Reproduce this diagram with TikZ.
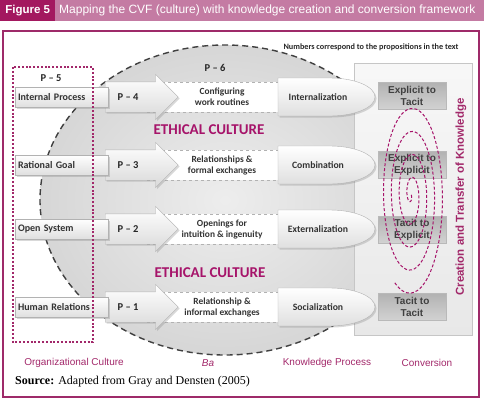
\documentclass[tikz,border=0pt]{standalone}
\usepackage{fontspec}
\setmainfont{Liberation Serif}
\setsansfont{Liberation Sans}
\newfontfamily\cfont{Carlito}
\usetikzlibrary{positioning,shapes.arrows,shadows}

\definecolor{figmag}{HTML}{A3185F}
\definecolor{barmag}{HTML}{C47BA3}
\definecolor{framemag}{HTML}{9E2A69}
\definecolor{labmag}{HTML}{A2286A}
\definecolor{ethmag}{HTML}{A6146A}

\tikzset{
  softshadow/.style={drop shadow={opacity=.3, shadow xshift=1.5pt, shadow yshift=-1.5pt}},
  cultbox/.style={draw=gray!60, top color=white, bottom color=gray!25, minimum width=93pt, minimum height=20pt, text width=87pt, inner sep=0pt, align=left, font=\cfont\bfseries\fontsize{10}{11}\selectfont, text=black!80, softshadow},
  blockarrow/.style={single arrow, draw=gray!60, top color=white, bottom color=gray!30, minimum height=73pt, text height=0pt, text depth=0pt, inner xsep=0pt, inner ysep=15pt, single arrow head extend=7.5pt, single arrow tip angle=90, softshadow},
  barect/.style={draw=gray!60, dashed, fill=white, minimum width=150pt, minimum height=30pt, align=center, font=\cfont\bfseries\fontsize{9.4}{11}\selectfont, text=black!80},
  kpshape/.style={draw=gray!60, top color=white, bottom color=gray!25, softshadow},
  kpbullet/.pic={\path[kpshape] (0,-19) -- (52,-19) arc[start angle=-90, end angle=90, x radius=45, y radius=19] -- (0,19) -- cycle;},
  kptext/.style={font=\cfont\bfseries\fontsize{9.7}{11}\selectfont, text=black!80},
  ptext/.style={font=\cfont\bfseries\fontsize{10.5}{12}\selectfont, text=black!85},
  convpanel/.style={draw=gray!45, top color=gray!6, bottom color=gray!18, minimum width=118pt, minimum height=272pt},
  convbox/.style={draw=gray!55, top color=gray!60, bottom color=gray!35, minimum width=68pt, minimum height=27pt, inner sep=0pt, align=center, font=\sffamily\bfseries\fontsize{10}{11.5}\selectfont, text=black!75},
  ethic/.style={font=\cfont\bfseries\fontsize{15}{17}\selectfont, text=ethmag},
  collabel/.style={font=\sffamily\fontsize{10}{12}\selectfont, text=labmag},
}

\begin{document}
\begin{tikzpicture}[x=1pt, y=-1pt]
    \useasboundingbox (0,0) rectangle (484,400);
    % title bar
    \fill[barmag] (0,0) rectangle (484,21);
    \node[fill=figmag, text=white, font=\sffamily\bfseries\fontsize{11.5}{13}\selectfont, minimum width=55pt, minimum height=21pt, inner sep=0pt, anchor=north west] (fig) at (0,0) {Figure 5};
    \node[text=white, font=\sffamily\fontsize{12}{14}\selectfont, inner sep=0pt, anchor=west] (ttl) at (59,10.5) {Mapping the CVF (culture) with knowledge creation and conversion framework};
    \draw[framemag, line width=1.8pt] (3,31) rectangle (479,397);
    \node[font=\cfont\bfseries\fontsize{8.2}{9}\selectfont, text=black!85] (note) at (371,47) {Numbers correspond to the propositions in the text};

    % Ba
    \draw[black!75, line width=1.4pt, dash pattern=on 6pt off 4pt, inner color=gray!14, outer color=gray!32] (225,200) ellipse [x radius=185, y radius=155];
    \node[ptext] (p6) at (215,68) {P \textendash{} 6};
    \node[ptext] (p5) at (51,78) {P \textendash{} 5};

    % conversion panel
    \node[convpanel] (cp) at (413,199) {};

    % rows
    \node[barect] (r4) at (222,97) {Configuring\\work routines};
    \node[blockarrow, anchor=tail] (a4) at (105,97) {};
    \node[cultbox] (ip) at (61.5,97) {Internal Process};
    \node[ptext] (p4) at (128,97) {P \textendash{} 4};
    \pic at (278,97) {kpbullet};
    \node[kptext] (int) at (318,97) {Internalization};

    \node[barect] (r3) at (222,165) {Relationships \&\\formal exchanges};
    \node[blockarrow, anchor=tail] (a3) at (105,165) {};
    \node[cultbox] (rg) at (61.5,165) {Rational Goal};
    \node[ptext] (p3) at (128,165) {P \textendash{} 3};
    \pic at (278,165) {kpbullet};
    \node[kptext] (com) at (318,165) {Combination};

    \node[barect] (r2) at (222,229) {Openings for\\intuition \& ingenuity};
    \node[blockarrow, anchor=tail] (a2) at (105,229) {};
    \node[cultbox] (os) at (61.5,229) {Open System};
    \node[ptext] (p2) at (128,229) {P \textendash{} 2};
    \pic at (278,229) {kpbullet};
    \node[kptext] (ext) at (318,229) {Externalization};

    \node[barect] (r1) at (222,307) {Relationship \&\\informal exchanges};
    \node[blockarrow, anchor=tail] (a1) at (105,307) {};
    \node[cultbox] (hr) at (61.5,307) {Human Relations};
    \node[ptext] (p1) at (128,307) {P \textendash{} 1};
    \pic at (278,307) {kpbullet};
    \node[kptext] (soc) at (318,307) {Socialization};

    \node[ethic] (eth1) at (209,130) {ETHICAL CULTURE};
    \node[ethic] (eth2) at (210,273) {ETHICAL CULTURE};

    % conversion
    \node[convbox] (et) at (412,96) {Explicit to\\Tacit};
    \node[convbox] (ee) at (412,165) {Explicit to\\Explicit};
    \node[convbox] (te) at (412,230) {Tacit to\\Explicit};
    \node[convbox] (tt) at (412,307) {Tacit to\\Tacit};
    \draw[ethmag, line width=1pt, dash pattern=on 3pt off 2pt] plot[domain=0:1560, samples=260, smooth] ({411+\x/1560*34*cos(\x)}, {195+\x/1560*100*sin(\x)});
    \node[rotate=90, font=\sffamily\bfseries\fontsize{11.5}{13}\selectfont, text=labmag] (ctk) at (461,197) {Creation and Transfer of Knowledge};

    % organizational culture frame
    \draw[labmag, line width=1.2pt, dash pattern=on 2pt off 1.8pt] (13,67) rectangle (93,342);

    % column labels
    \node[collabel] (lab1) at (74,363) {Organizational Culture};
    \node[collabel, font=\sffamily\itshape\fontsize{10}{12}\selectfont] (lab2) at (208,363) {Ba};
    \node[collabel] (lab3) at (327,363) {Knowledge Process};
    \node[collabel] (lab4) at (427,363) {Conversion};
    \node[font=\fontsize{12}{14}\selectfont, anchor=west, inner sep=0pt] (src) at (15,382) {\textbf{Source:} Adapted from Gray and Densten (2005)};
\end{tikzpicture}
\end{document}
